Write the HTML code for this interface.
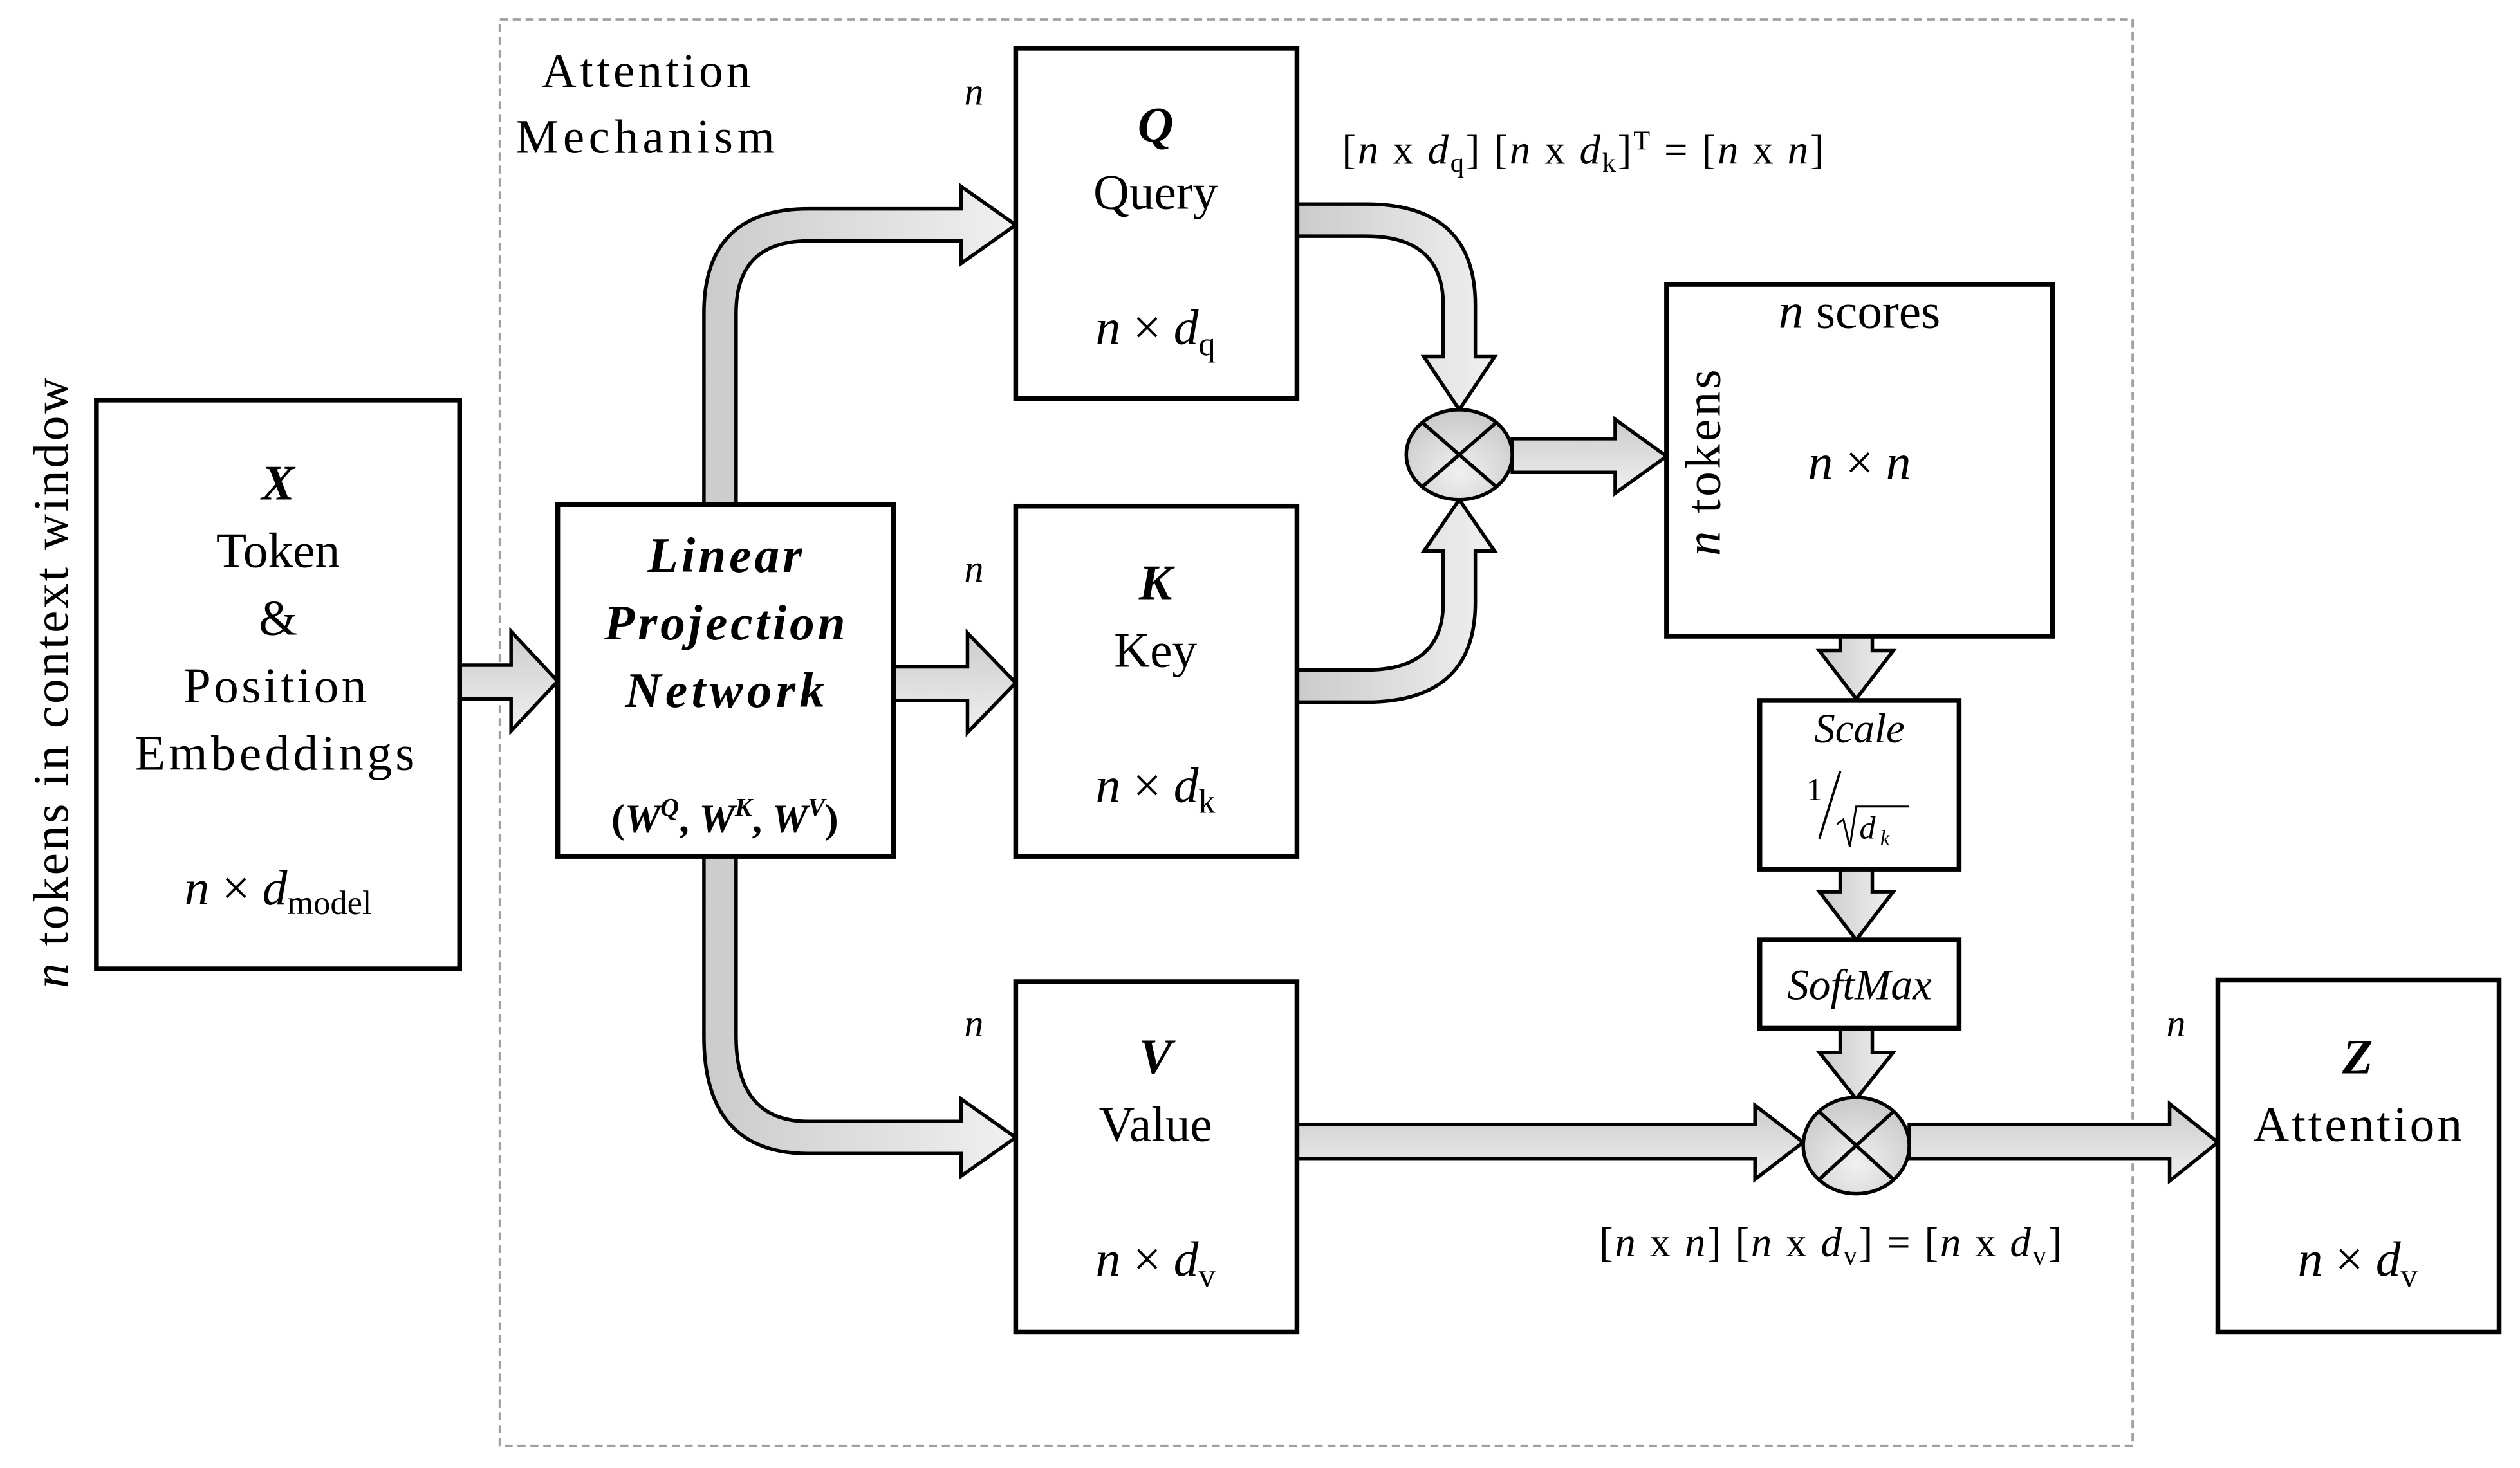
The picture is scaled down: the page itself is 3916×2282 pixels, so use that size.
<!DOCTYPE html>
<html><head><meta charset="utf-8"><style>
html,body{margin:0;padding:0;background:#fff;}
svg{display:block;}
text{font-family:"Liberation Serif",serif;fill:#000;}
</style></head><body>
<svg width="3916" height="2282" viewBox="0 0 1568 913.7" preserveAspectRatio="none" xmlns="http://www.w3.org/2000/svg">
<defs>
<linearGradient id="gh" x1="0" y1="0" x2="0" y2="1"><stop offset="0" stop-color="#cbcbcb"/><stop offset="1" stop-color="#f0f0f0"/></linearGradient>
<linearGradient id="gv" x1="0" y1="0" x2="1" y2="0"><stop offset="0" stop-color="#cbcbcb"/><stop offset="1" stop-color="#f0f0f0"/></linearGradient>
<radialGradient id="gc" cx="0.5" cy="0.7" r="0.7"><stop offset="0" stop-color="#f0f0f0"/><stop offset="1" stop-color="#c8c8c8"/></radialGradient>
</defs>
<rect x="311" y="12" width="1016" height="888" fill="none" stroke="#a0a0a0" stroke-width="1.5" stroke-dasharray="5,3"/>

<g stroke="#000" stroke-width="2.2" stroke-linejoin="miter">
<path d="M286 414 L318 414 L318 393 L347 424 L318 455 L318 435 L286 435 Z" fill="url(#gh)"/>
<path d="M556 415 L602 415 L602 394 L632 425 L602 456 L602 436 L556 436 Z" fill="url(#gh)"/>
<path d="M438 314 L438 195 Q438 130 503 130 L598 130 L598 116 L632 140 L598 164 L598 150 L503 150 Q458 150 458 195 L458 314 Z" fill="url(#gv)"/>
<path d="M438 533 L438 645 Q438 718 503 718 L598 718 L598 732 L632 708 L598 684 L598 698 L503 698 Q458 698 458 645 L458 533 Z" fill="url(#gv)"/>
<path d="M807 127 L850 127 Q918 127 918 190 L918 222 L930 222 L908 255 L886 222 L898 222 L898 190 Q898 147 850 147 L807 147 Z" fill="url(#gv)"/>
<path d="M807 437 L850 437 Q918 437 918 375 L918 343 L930 343 L908 311 L886 343 L898 343 L898 375 Q898 417 850 417 L807 417 Z" fill="url(#gv)"/>
<path d="M941 273 L1005 273 L1005 261 L1037 284 L1005 307 L1005 294 L941 294 Z" fill="url(#gh)"/>
<path d="M1145 396 L1165 396 L1165 405 L1178 405 L1155 435 L1132 405 L1145 405 Z" fill="url(#gv)"/>
<path d="M1145 541 L1165 541 L1165 555 L1178 555 L1155 585 L1132 555 L1145 555 Z" fill="url(#gv)"/>
<path d="M1145 640 L1165 640 L1165 655 L1178 655 L1155 684 L1132 655 L1145 655 Z" fill="url(#gv)"/>
<path d="M807 700 L1092 700 L1092 688 L1122 711 L1092 734 L1092 721 L807 721 Z" fill="url(#gh)"/>
<path d="M1188 700 L1350 700 L1350 687 L1380 711 L1350 735 L1350 721 L1188 721 Z" fill="url(#gh)"/>

<ellipse cx="908" cy="283" rx="33" ry="28" fill="url(#gc)"/>
<line x1="885" y1="263" x2="931" y2="303"/><line x1="931" y1="263" x2="885" y2="303"/>
<ellipse cx="1155" cy="713" rx="33" ry="30" fill="url(#gc)"/>
<line x1="1132" y1="692" x2="1178" y2="734"/><line x1="1178" y1="692" x2="1132" y2="734"/>
</g>

<g fill="#fff" stroke="#000" stroke-width="3">
<rect x="60" y="249" width="226" height="354"/>
<rect x="347" y="314" width="209" height="219"/>
<rect x="632" y="30" width="175" height="218"/>
<rect x="632" y="315" width="175" height="218"/>
<rect x="632" y="611" width="175" height="218"/>
<rect x="1037" y="177" width="240" height="219"/>
<rect x="1095" y="436" width="124" height="105"/>
<rect x="1095" y="585" width="124" height="55"/>
<rect x="1380" y="610" width="175" height="219"/>
</g>

<g font-size="31" text-anchor="middle">
<text x="173" y="311" font-weight="bold" font-style="italic">X</text>
<text x="173" y="353">Token</text>
<text x="173" y="395">&amp;</text>
<text x="171" y="437" textLength="114">Position</text>
<text x="171" y="479" textLength="174">Embeddings</text>
<text x="173" y="563"><tspan font-style="italic">n</tspan> × <tspan font-style="italic">d</tspan><tspan font-size="21" dy="6">model</tspan></text>

<text x="451" y="356" font-weight="bold" font-style="italic" textLength="96">Linear</text>
<text x="451" y="398" font-weight="bold" font-style="italic" textLength="150">Projection</text>
<text x="451" y="440" font-weight="bold" font-style="italic" textLength="124">Network</text>
<text x="451" y="518" font-size="25" font-weight="bold">(<tspan font-style="italic">W</tspan><tspan font-size="16" dy="-10" font-style="italic">Q</tspan><tspan dy="10">, </tspan><tspan font-style="italic">W</tspan><tspan font-size="16" dy="-10" font-style="italic">K</tspan><tspan dy="10">, </tspan><tspan font-style="italic">W</tspan><tspan font-size="16" dy="-10" font-style="italic">V</tspan><tspan dy="10">)</tspan></text>

<text x="719" y="88" font-weight="bold" font-style="italic">Q</text>
<text x="719" y="130">Query</text>
<text x="719" y="214"><tspan font-style="italic">n</tspan> × <tspan font-style="italic">d</tspan><tspan font-size="21" dy="7">q</tspan></text>

<text x="719" y="373" font-weight="bold" font-style="italic">K</text>
<text x="719" y="415">Key</text>
<text x="719" y="499"><tspan font-style="italic">n</tspan> × <tspan font-style="italic">d</tspan><tspan font-size="21" dy="7">k</tspan></text>

<text x="719" y="668" font-weight="bold" font-style="italic">V</text>
<text x="719" y="710">Value</text>
<text x="719" y="794"><tspan font-style="italic">n</tspan> × <tspan font-style="italic">d</tspan><tspan font-size="21" dy="7">v</tspan></text>

<text x="1467" y="668" font-weight="bold" font-style="italic">Z</text>
<text x="1467" y="710" textLength="130">Attention</text>
<text x="1467" y="794"><tspan font-style="italic">n</tspan> × <tspan font-style="italic">d</tspan><tspan font-size="21" dy="7">v</tspan></text>

<text x="1157" y="204"><tspan font-style="italic">n</tspan> scores</text>
<text x="1157" y="298"><tspan font-style="italic">n</tspan> × <tspan font-style="italic">n</tspan></text>
</g>
<text x="1070" y="288" font-size="31" text-anchor="middle" transform="rotate(-90 1070 288)" textLength="116"><tspan font-style="italic">n</tspan> tokens</text>
<text x="42" y="425" font-size="31" text-anchor="middle" transform="rotate(-90 42 425)" textLength="380"><tspan font-style="italic">n</tspan> tokens in context window</text>

<g font-size="30">
<text x="337" y="54" textLength="130">Attention</text>
<text x="321" y="95" textLength="161">Mechanism</text>
</g>
<g font-size="24" font-style="italic">
<text x="600" y="65">n</text>
<text x="600" y="362">n</text>
<text x="600" y="645">n</text>
<text x="1348" y="645">n</text>
</g>
<text x="835" y="102" font-size="26" textLength="300">[<tspan font-style="italic">n</tspan> x <tspan font-style="italic">d</tspan><tspan font-size="17" dy="5">q</tspan><tspan dy="-5">] [</tspan><tspan font-style="italic">n</tspan> x <tspan font-style="italic">d</tspan><tspan font-size="17" dy="5">k</tspan><tspan dy="-5">]</tspan><tspan font-size="17" dy="-9">T</tspan><tspan dy="9"> = [</tspan><tspan font-style="italic">n</tspan> x <tspan font-style="italic">n</tspan>]</text>
<text x="995" y="782" font-size="26" textLength="288">[<tspan font-style="italic">n</tspan> x <tspan font-style="italic">n</tspan>] [<tspan font-style="italic">n</tspan> x <tspan font-style="italic">d</tspan><tspan font-size="17" dy="5">v</tspan><tspan dy="-5">] = [</tspan><tspan font-style="italic">n</tspan> x <tspan font-style="italic">d</tspan><tspan font-size="17" dy="5">v</tspan><tspan dy="-5">]</tspan></text>

<text x="1157" y="462" font-size="26" font-style="italic" text-anchor="middle">Scale</text>
<text x="1124" y="498" font-size="20">1</text>
<line x1="1145" y1="480" x2="1132" y2="522" stroke="#000" stroke-width="1.5"/>
<path d="M1143 513 L1147 510 L1151 527 L1155 502 L1188 502" fill="none" stroke="#000" stroke-width="1.2"/>
<text x="1157" y="522" font-size="20" font-style="italic">d</text>
<text x="1170" y="526" font-size="13" font-style="italic">k</text>
<text x="1157" y="622" font-size="27" font-style="italic" text-anchor="middle">SoftMax</text>
</svg>
</body></html>
